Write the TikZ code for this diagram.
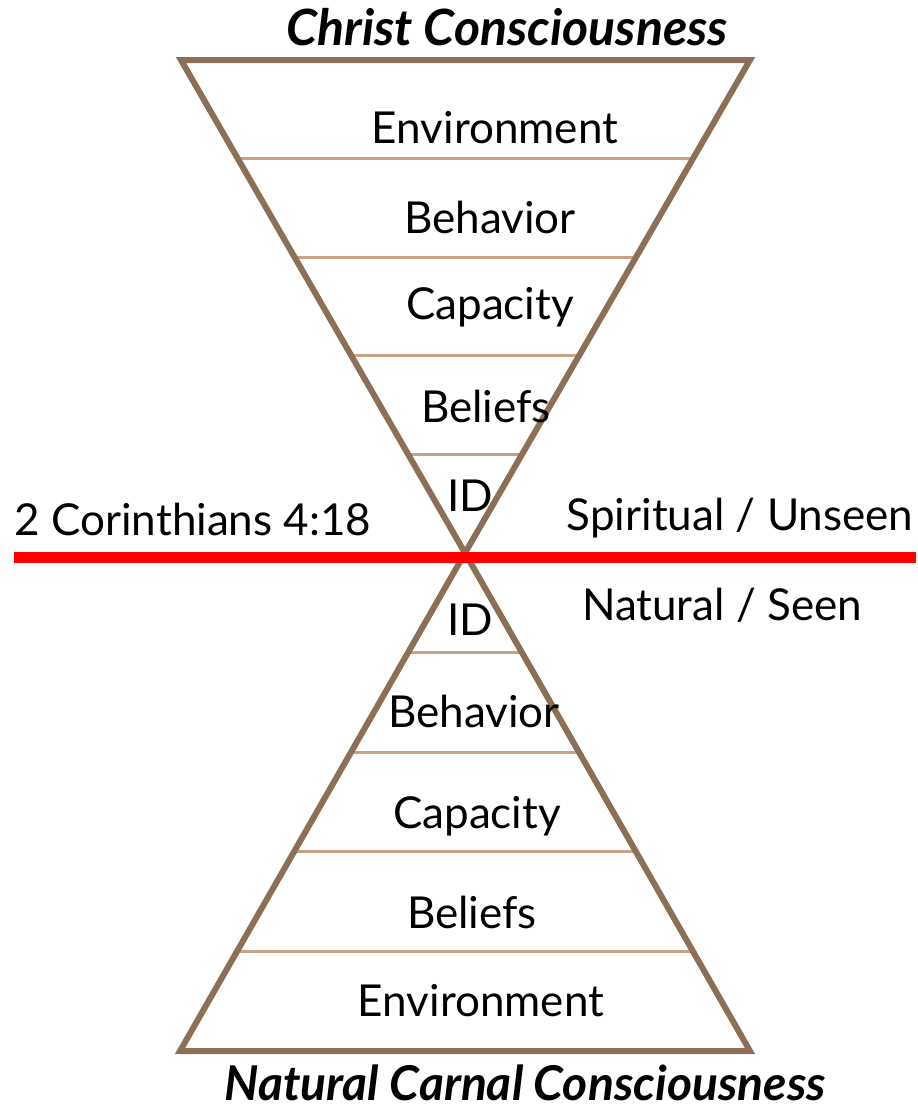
\documentclass[tikz,border=0pt]{standalone}
\usepackage{fontspec}
\setmainfont{Lato}
\usetikzlibrary{calc}
\definecolor{frame}{RGB}{140,112,86}
\definecolor{divline}{RGB}{200,162,130}
\definecolor{redline}{RGB}{255,0,0}
\begin{document}
\begin{tikzpicture}[x=1pt,y=-1pt,
  lbl/.style={font=\fontsize{44}{48}\selectfont, inner sep=0pt, anchor=center},
  ttl/.style={font=\fontsize{50}{54}\selectfont\bfseries\itshape, inner sep=0pt, anchor=center},
  tri/.style={draw=frame, line width=6pt, line join=miter},
  divider/.style={draw=divline, line width=3pt},
  sep/.style={draw=redline, line width=11pt}]
\useasboundingbox (0,0) rectangle (918,1111);
% corners
\coordinate (TL) at (181,60);
\coordinate (TR) at (750,60);
\coordinate (A) at (465,553);
\coordinate (BL) at (180,1051);
\coordinate (BR) at (750,1051);
% dividers
\foreach \i/\f in {1/0.2,2/0.4,3/0.6,4/0.8}{
  \draw[divider] ($(TL)!\f!(A)$) -- ($(TR)!\f!(A)$);
  \draw[divider] ($(A)!\f!(BL)$) -- ($(A)!\f!(BR)$);
}
\draw[tri] (TL) -- (TR) -- (A) -- cycle;
\draw[tri] (A) -- (BR) -- (BL) -- cycle;
\coordinate (RL) at (14,557);
\coordinate (RR) at (916,557);
\draw[sep] (RL) -- (RR);
% labels
\node[ttl] (t1) at (507,27) {Christ Consciousness};
\node[ttl, font=\fontsize{48}{52}\selectfont\bfseries\itshape, anchor=base, text depth=0pt] (t2) at (525,1100) {Natural Carnal Consciousness};
\node[lbl] (u1) at (495,128) {Environment};
\node[lbl] (u2) at (490,217) {Behavior};
\node[lbl] (u3) at (490,307) {Capacity};
\node[lbl] (u4) at (486,406) {Beliefs};
\node[lbl] (u5) at (470,496) {ID};
\node[lbl] (d1) at (470,620) {ID};
\node[lbl] (d2) at (474,711) {Behavior};
\node[lbl] (d3) at (477,816) {Capacity};
\node[lbl] (d4) at (472,912) {Beliefs};
\node[lbl] (d5) at (481,1001) {Environment};
\node[lbl] (c) at (193,519) {2 Corinthians 4:18};
\node[lbl] (s1) at (740,518) {Spiritual / Unseen};
\node[lbl] (s2) at (722,605) {Natural / Seen};
\end{tikzpicture}
\end{document}
